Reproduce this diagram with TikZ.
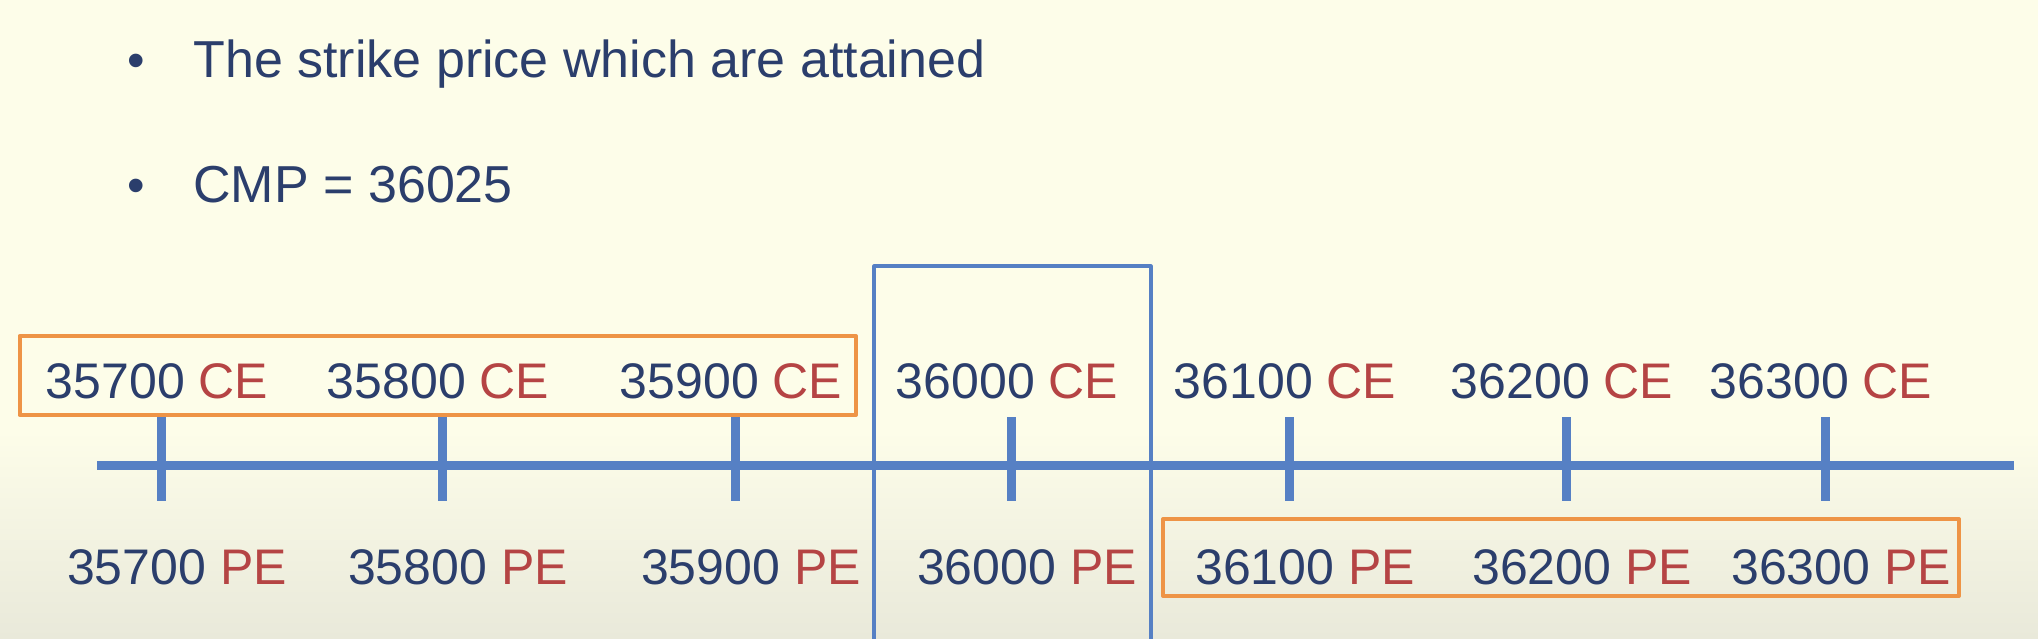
\documentclass[tikz,border=0pt]{standalone}
\usepackage{fontspec}
\setmainfont{Liberation Sans}
\definecolor{navy}{HTML}{2B3E6C}
\definecolor{redce}{HTML}{B54444}
\definecolor{axisblue}{HTML}{5680C4}
\definecolor{hiorange}{HTML}{EE9446}
\definecolor{cream}{HTML}{FDFDE9}
\definecolor{creamdark}{HTML}{E9E9DA}
\begin{document}
\begin{tikzpicture}[x=0.5pt, y=-0.5pt, font=\fontsize{25}{30}\selectfont, line join=round,
		lbl/.style={inner sep=0pt, anchor=base, text=navy},
		axis/.style={draw=axisblue, line width=4.5pt},
		hilite/.style={draw=hiorange, line width=2pt},
		cmpbox/.style={draw=axisblue, line width=1.6pt}]
	\useasboundingbox (0,0) rectangle (2038,638);
	\fill[cream] (0,0) rectangle (2038,430);
	\shade[top color=cream, bottom color=creamdark] (0,430) rectangle (2038,638);
	% bullet lines
	\node[lbl] (b1) at (136,77) {\textbullet};
	\node[lbl, anchor=base west, font=\fontsize{26}{30}\selectfont] (line1) at (193,77) {The strike price which are attained};
	\node[lbl] (b2) at (136,202) {\textbullet};
	\node[lbl, anchor=base west, font=\fontsize{26}{30}\selectfont] (line2) at (193,202) {CMP = 36025};
	% axis with strikes
	\coordinate (ax0) at (97,465);
	\coordinate (ax1) at (2014,465);
	\draw[axis] (ax0) -- (ax1);
	\foreach \x/\k in {161/35700,442/35800,735/35900,1011/36000,1289/36100,1566/36200,1825/36300}{
		\coordinate (t\k) at (\x,465);
		\draw[axis] (\x,417) -- (\x,501);
		\node[lbl] (ce\k) at ({\x-4},398) {\k\ \textcolor{redce}{CE}};
		\node[lbl] (pe\k) at ({\x+16},584) {\k\ \textcolor{redce}{PE}};}
	% attained strikes
	\draw[hilite] (19.5,336) rectangle (856,415);
	\draw[hilite] (1163,519) rectangle (1959,596);
	\draw[cmpbox] (874,642) -- (874,266) -- (1151,266) -- (1151,642);
\end{tikzpicture}
\end{document}
